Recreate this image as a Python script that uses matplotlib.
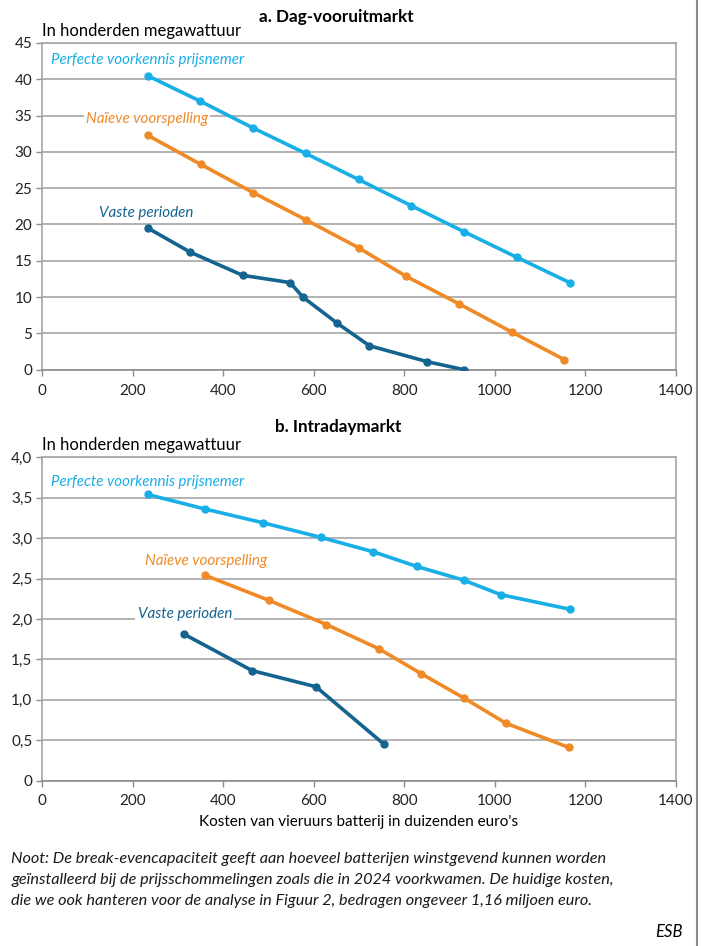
import matplotlib
matplotlib.use("Agg")
import matplotlib.pyplot as plt
from matplotlib.lines import Line2D

plt.rcParams['font.family'] = ['Lato', 'DejaVu Sans']

# a. Dag-vooruitmarkt
x_top_perf = [233, 349, 466, 582, 699, 815, 932, 1048, 1165]
y_top_perf = [40.5, 37.0, 33.3, 29.8, 26.2, 22.6, 19.0, 15.5, 12.0]
x_top_naive = [233, 350, 466, 584, 699, 803, 920, 1037, 1153]
y_top_naive = [32.3, 28.3, 24.4, 20.6, 16.8, 12.9, 9.1, 5.2, 1.4]
x_top_vast = [234, 327, 443, 548, 576, 652, 723, 851, 932]
y_top_vast = [19.5, 16.2, 13.0, 12.0, 10.0, 6.4, 3.3, 1.1, 0.0]

# b. Intradaymarkt
x_bot_perf = [233, 360, 488, 615, 732, 827, 931, 1013, 1165]
y_bot_perf = [3.54, 3.36, 3.19, 3.01, 2.83, 2.65, 2.48, 2.30, 2.12]
x_bot_naive = [360, 501, 628, 744, 838, 932, 1024, 1163]
y_bot_naive = [2.54, 2.23, 1.93, 1.63, 1.32, 1.02, 0.71, 0.41]
x_bot_vast = [314, 464, 605, 755]
y_bot_vast = [1.81, 1.36, 1.16, 0.45]

x_ticks = [0, 200, 400, 600, 800, 1000, 1200, 1400]
y_ticks_top = [0, 5, 10, 15, 20, 25, 30, 35, 40, 45]
y_ticks_bot = [0, 0.5, 1.0, 1.5, 2.0, 2.5, 3.0, 3.5, 4.0]
y_labels_bot = ['0', '0,5', '1,0', '1,5', '2,0', '2,5', '3,0', '3,5', '4,0']

c_perf = '#18aee6'
c_naive = '#f08a26'
c_vast = '#14648f'
grid_c = '#a6a6a6'

W, H = 705, 946
fig = plt.figure(figsize=(W / 100, H / 100), dpi=100)

def px_axes(left, right, top, bottom):
    return fig.add_axes([left / W, 1 - bottom / H, (right - left) / W, (bottom - top) / H])

ax1 = px_axes(42, 676, 43, 369.7)
ax2 = px_axes(42, 676, 457.3, 780.5)

def style(ax, yticks, ylabels):
    ax.set_xlim(0, 1400)
    ax.set_ylim(yticks[0], yticks[-1])
    ax.set_xticks(x_ticks)
    ax.set_xticklabels([str(t) for t in x_ticks])
    ax.set_yticks(yticks)
    ax.set_yticklabels(ylabels)
    ax.yaxis.grid(True, color=grid_c, lw=1.2)
    ax.set_axisbelow(True)
    for s in ax.spines.values():
        s.set_color(grid_c)
        s.set_linewidth(1.2)
    ax.spines['bottom'].set_color('#8c8c8c')
    ax.tick_params(axis='both', colors='#8c8c8c', labelcolor='#222222',
                   labelsize=11, length=4, width=1)
    ax.tick_params(axis='x', pad=6)
    ax.tick_params(axis='y', pad=3)

def draw(ax, x, y, c):
    ax.plot(x, y, color=c, lw=2.6, marker='o', ms=5, solid_capstyle='round', zorder=3)

style(ax1, y_ticks_top, [str(t) for t in y_ticks_top])
style(ax2, y_ticks_bot, y_labels_bot)

draw(ax1, x_top_perf, y_top_perf, c_perf)
draw(ax1, x_top_naive, y_top_naive, c_naive)
draw(ax1, x_top_vast, y_top_vast, c_vast)
draw(ax2, x_bot_perf, y_bot_perf, c_perf)
draw(ax2, x_bot_naive, y_bot_naive, c_naive)
draw(ax2, x_bot_vast, y_bot_vast, c_vast)

lab = dict(fontsize=10.9, style='italic', va='center', ha='left', zorder=2)
box = dict(facecolor='white', edgecolor='none', pad=1.5)
ax1.text(20, 42.6, 'Perfecte voorkennis prijsnemer', color=c_perf, **lab)
ax1.text(97, 34.5, 'Naïeve voorspelling', color=c_naive, bbox=box, **lab)
ax1.text(125, 21.6, 'Vaste perioden', color=c_vast, **lab)
ax2.text(20, 3.69, 'Perfecte voorkennis prijsnemer', color=c_perf, **lab)
ax2.text(227, 2.72, 'Naïeve voorspelling', color=c_naive, **lab)
ax2.text(211, 2.06, 'Vaste perioden', color=c_vast, bbox=box, **lab)

fig.text(336 / W, 1 - 17 / H, 'a. Dag-vooruitmarkt', ha='center', va='center',
         fontsize=12.3, fontweight='bold')
fig.text(338 / W, 1 - 427 / H, 'b. Intradaymarkt', ha='center', va='center',
         fontsize=12.3, fontweight='bold')
fig.text(42 / W, 1 - 31 / H, 'In honderden megawattuur', ha='left', va='center', fontsize=12)
fig.text(42 / W, 1 - 445 / H, 'In honderden megawattuur', ha='left', va='center', fontsize=12)
fig.text(359 / W, 1 - 822 / H, "Kosten van vieruurs batterij in duizenden euro's",
         ha='center', va='center', fontsize=11)

note = ("Noot: De break-evencapaciteit geeft aan hoeveel batterijen winstgevend kunnen worden\n"
        "geïnstalleerd bij de prijsschommelingen zoals die in 2024 voorkwamen. De huidige kosten,\n"
        "die we ook hanteren voor de analyse in Figuur 2, bedragen ongeveer 1,16 miljoen euro.")
fig.text(11 / W, 1 - 852 / H, note, ha='left', va='top', fontsize=11.7, style='italic',
         linespacing=1.62, color='#1a1a1a')
fig.text(683 / W, 1 - 932 / H, 'ESB', ha='right', va='center', fontsize=12, style='italic')

fig.add_artist(Line2D([697 / W, 697 / W], [0, 1], color='#8a8a8a', lw=1.5))

fig.savefig('out.png', dpi=100)
